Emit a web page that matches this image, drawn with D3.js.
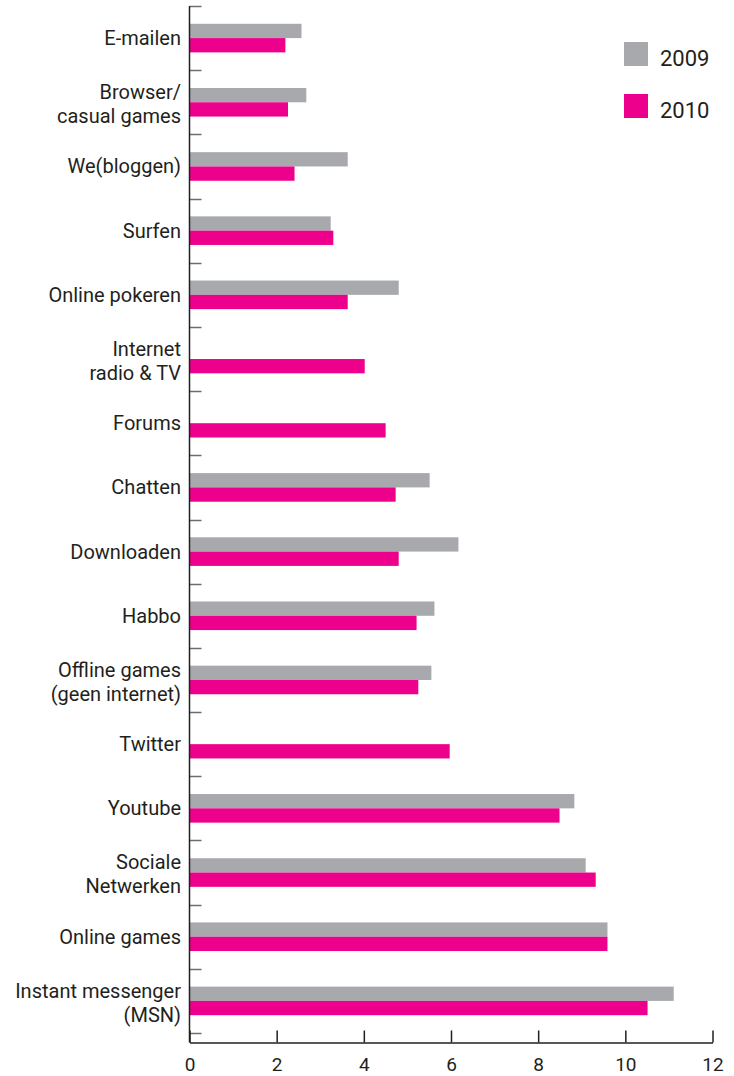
<!DOCTYPE html>
<html>
<head>
<meta charset="utf-8">
<script src="https://cdn.jsdelivr.net/npm/d3@7"></script>
<style>
  html, body { margin: 0; padding: 0; background: #fff; }
  svg { display: block; }
</style>
</head>
<body>
<svg id="chart" width="734" height="1076"></svg>
<script>
// ---- Data ----
const categories = [
  "E-mailen",
  "Browser/|casual games",
  "We(bloggen)",
  "Surfen",
  "Online pokeren",
  "Internet|radio & TV",
  "Forums",
  "Chatten",
  "Downloaden",
  "Habbo",
  "Offline games|(geen internet)",
  "Twitter",
  "Youtube",
  "Sociale|Netwerken",
  "Online games",
  "Instant messenger|(MSN)"
];
const series = ["2009", "2010"];
const values2009 = [2.57, 2.68, 3.63, 3.24, 4.80, null, null, 5.51, 6.17, 5.62, 5.55, null, 8.83, 9.09, 9.59, 11.11];
const values2010 = [2.20, 2.26, 2.41, 3.30, 3.63, 4.02, 4.50, 4.73, 4.80, 5.21, 5.25, 5.97, 8.49, 9.32, 9.59, 10.51];
const xTicks = [0, 2, 4, 6, 8, 10, 12];
const colors = ["#a7a9ac", "#ec008c"];

// ---- Layout ----
const svg = d3.select("#chart");
const font = "Roboto, 'Open Sans', sans-serif";
const axisX = 189.5, axisBottomY = 1042.5;

const x = d3.scaleLinear().domain([0, 12]).range([axisX, 712.5]);
const y = d3.scaleBand().domain(categories).range([6, 1033]).paddingInner(0).paddingOuter(0);
const yInner = d3.scaleBand().domain(series).range([0, y.bandwidth()]).paddingInner(0).paddingOuter(1.245);
const color = d3.scaleOrdinal().domain(series).range(colors);

const rows = categories.map((c, i) => ({
  cat: c,
  vals: [
    { s: "2009", v: values2009[i] },
    { s: "2010", v: values2010[i] }
  ]
}));

// bars
const g = svg.append("g");
g.selectAll("g.row").data(rows).join("g")
  .attr("class", "row")
  .attr("transform", d => `translate(0,${y(d.cat)})`)
  .selectAll("rect").data(d => d.vals.filter(v => v.v != null)).join("rect")
  .attr("x", x(0))
  .attr("y", d => yInner(d.s))
  .attr("width", d => x(d.v) - x(0))
  .attr("height", yInner.bandwidth())
  .attr("fill", d => color(d.s));

// y axis ticks (band boundaries)
const boundaries = categories.map(c => y(c)).concat([y.range()[1]]);
svg.append("g").selectAll("line").data(boundaries).join("line")
  .attr("x1", axisX).attr("x2", axisX + 12)
  .attr("y1", d => Math.round(d) + 0.5).attr("y2", d => Math.round(d) + 0.5)
  .attr("stroke", "#6d6e71").attr("stroke-width", 1.5);

// y axis line
svg.append("line")
  .attr("x1", axisX).attr("x2", axisX)
  .attr("y1", 6).attr("y2", axisBottomY)
  .attr("stroke", "#231f20").attr("stroke-width", 1.5);

// category labels
const labels = svg.append("g")
  .attr("font-family", font).attr("font-size", 20).attr("fill", "#231f20")
  .attr("text-anchor", "end");
categories.forEach(c => {
  const lines = c.split("|");
  const cy = y(c) + y.bandwidth() / 2;
  const lh = 24.3;
  const t = labels.append("text").attr("x", 181);
  lines.forEach((ln, i) => {
    const off = (i - (lines.length - 1) / 2) * lh + 7 + (lines.length > 1 ? 1.8 : 0);
    t.append("tspan").attr("x", 181).attr("y", cy + off).text(ln);
  });
});

// x axis
const xAxis = d3.axisBottom(x).tickValues(xTicks).tickSizeInner(-12).tickSizeOuter(0).tickPadding(16);
const xa = svg.append("g").attr("transform", `translate(0,${axisBottomY})`).call(xAxis);
xa.select(".domain").attr("stroke", "#231f20").attr("stroke-width", 1.5);
xa.selectAll(".tick line").attr("stroke", "#231f20").attr("stroke-width", 1.5);
xa.selectAll(".tick text")
  .attr("font-family", font).attr("font-size", 19).attr("fill", "#231f20")
  .attr("y", 28.5).attr("dy", 0);

// legend
const legend = svg.append("g");
series.forEach((s, i) => {
  const ly = 42 + i * 52;
  legend.append("rect").attr("x", 624).attr("y", ly).attr("width", 24).attr("height", 24).attr("fill", color(s));
  legend.append("text").attr("x", 660).attr("y", ly + 24)
    .attr("font-family", font).attr("font-size", 22).attr("fill", "#231f20").text(s);
});
</script>
</body>
</html>
